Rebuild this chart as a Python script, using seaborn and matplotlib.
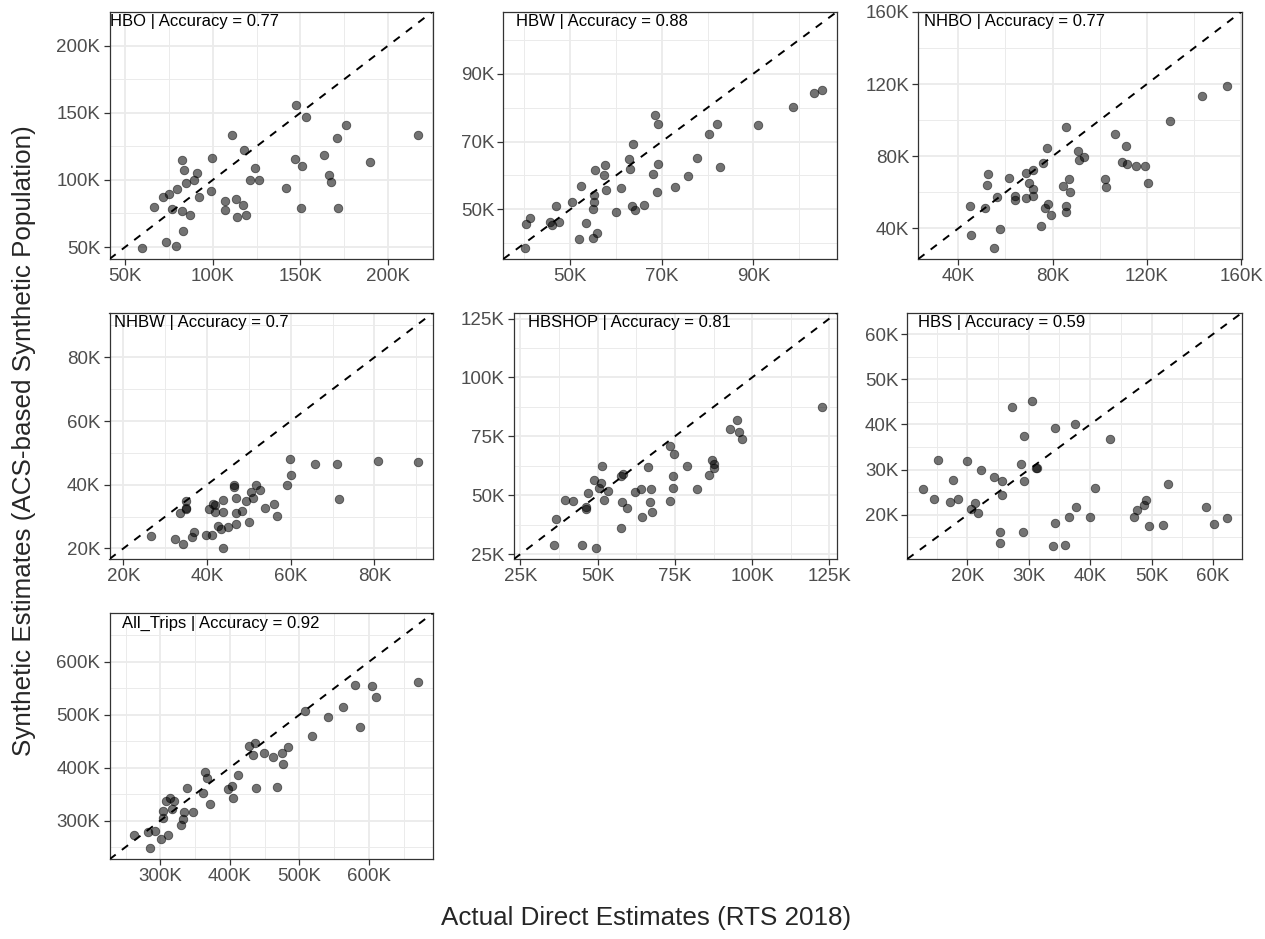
import numpy as np
import pandas as pd
import seaborn as sns
import matplotlib.pyplot as plt
from matplotlib.ticker import MultipleLocator, FuncFormatter

# values in thousands
hbo_x = [59.8, 73.2, 79.2, 83.2, 66.6, 71.7, 75.3, 76.8, 79.8, 82.3, 84.5, 87.2, 82.6, 83.6, 89.4, 90.9, 92.1, 99.1, 99.8, 107.0, 106.8, 111.1, 113.4, 113.6, 117.5, 119.1, 117.7, 121.1, 123.8, 126.4, 141.7, 146.8, 147.7, 151.1, 150.2, 153.4, 163.6, 166.4, 167.4, 171.0, 171.5, 175.7, 189.8, 217.0]
hbo_y = [49.5, 53.7, 50.7, 61.9, 79.6, 87.1, 89.6, 78.6, 93.0, 76.6, 98.0, 74.1, 114.7, 107.2, 99.8, 105.0, 87.3, 92.0, 116.2, 84.1, 77.9, 133.3, 85.6, 72.4, 81.3, 73.6, 121.9, 99.8, 108.5, 100.2, 94.0, 115.4, 155.7, 110.2, 78.9, 147.0, 118.4, 104.0, 98.8, 131.3, 78.9, 141.0, 113.2, 133.3]

hbw_x = [40.2, 40.4, 41.2, 45.5, 46.1, 47.5, 46.8, 50.4, 52.4, 52.0, 53.4, 55.0, 55.8, 54.9, 55.2, 55.2, 55.3, 57.4, 57.6, 57.9, 60.0, 61.1, 62.9, 63.1, 63.7, 63.4, 64.2, 66.0, 68.0, 68.5, 69.1, 69.1, 69.0, 72.8, 75.8, 77.7, 80.3, 82.1, 82.7, 90.9, 98.7, 103.2, 105.0]
hbw_y = [38.7, 45.6, 47.4, 46.3, 45.3, 46.3, 50.9, 52.1, 56.9, 41.4, 46.0, 41.5, 42.9, 50.2, 52.2, 54.1, 61.5, 60.0, 63.0, 55.8, 49.2, 56.3, 64.9, 62.0, 69.4, 51.0, 49.9, 51.2, 60.3, 77.9, 75.3, 63.4, 55.1, 56.6, 59.7, 65.1, 72.2, 75.3, 62.6, 74.8, 80.2, 84.4, 85.1]

nhbo_x = [44.9, 45.4, 51.3, 52.4, 52.8, 55.2, 56.4, 57.6, 61.6, 64.1, 64.1, 68.7, 68.7, 70.0, 71.6, 71.6, 71.6, 75.2, 76.0, 76.7, 77.7, 78.1, 79.4, 84.5, 85.5, 85.6, 85.9, 87.0, 87.3, 90.6, 91.1, 93.5, 102.3, 102.5, 106.5, 109.6, 111.3, 111.7, 115.5, 119.1, 120.3, 129.7, 143.5, 154.0]
nhbo_y = [52.5, 36.3, 51.4, 64.0, 69.9, 29.3, 57.5, 39.6, 68.2, 57.9, 55.7, 57.0, 70.8, 65.3, 72.6, 62.1, 58.1, 41.3, 76.1, 51.1, 84.4, 53.3, 47.7, 63.4, 96.2, 52.5, 49.2, 67.5, 60.3, 83.1, 77.8, 79.6, 67.6, 62.9, 92.4, 76.9, 85.7, 75.9, 74.7, 74.8, 65.1, 99.7, 113.2, 118.7]

nhbw_x = [26.7, 32.3, 34.2, 33.6, 35.0, 35.0, 35.0, 36.4, 36.9, 39.8, 41.1, 40.4, 41.5, 41.8, 41.9, 42.6, 43.4, 43.7, 43.9, 43.8, 45.1, 46.4, 46.4, 46.8, 46.9, 47.0, 48.4, 49.4, 50.0, 50.5, 50.9, 51.6, 52.6, 53.9, 55.9, 56.6, 59.1, 59.8, 60.1, 65.8, 71.1, 71.6, 80.8, 90.4]
nhbw_y = [23.8, 23.0, 21.5, 31.2, 32.7, 35.0, 32.3, 23.7, 25.1, 24.1, 24.1, 32.5, 34.1, 33.5, 31.6, 27.2, 26.0, 31.4, 35.2, 20.2, 26.7, 39.8, 39.3, 31.0, 27.6, 35.7, 31.8, 34.9, 28.4, 37.7, 35.7, 40.0, 38.5, 32.8, 34.1, 30.2, 39.8, 48.0, 43.0, 46.4, 46.5, 35.6, 47.5, 47.2]

hbshop_x = [35.8, 36.7, 39.6, 42.0, 44.8, 46.2, 46.4, 46.8, 48.9, 49.4, 50.5, 51.0, 51.5, 52.0, 53.3, 57.5, 57.7, 58.3, 58.0, 59.4, 62.0, 63.9, 64.5, 66.4, 67.1, 67.3, 67.6, 73.3, 73.3, 74.3, 74.4, 74.6, 78.8, 82.3, 86.1, 87.0, 87.5, 87.5, 92.8, 95.1, 95.9, 96.7, 122.6]
hbshop_y = [28.8, 40.0, 48.0, 47.6, 28.9, 44.2, 44.9, 50.8, 56.3, 27.7, 53.2, 55.1, 62.5, 48.0, 52.0, 36.1, 58.3, 59.0, 47.2, 44.5, 51.3, 52.8, 40.9, 61.8, 47.3, 52.8, 43.0, 47.6, 70.8, 58.3, 53.2, 67.7, 62.6, 52.8, 58.6, 64.9, 63.1, 61.5, 78.2, 82.0, 76.7, 73.7, 87.6]

hbs_x = [12.7, 14.5, 15.2, 17.2, 17.6, 18.4, 20.0, 20.6, 21.3, 21.8, 22.3, 24.3, 25.3, 25.3, 25.6, 25.7, 27.2, 28.7, 29.0, 29.2, 29.3, 31.2, 31.4, 30.5, 34.0, 34.3, 34.3, 35.9, 36.6, 37.6, 37.7, 40.0, 40.8, 43.2, 47.1, 47.6, 48.8, 49.1, 49.6, 51.9, 52.7, 58.9, 60.2, 62.2]
hbs_y = [25.8, 23.4, 32.1, 22.9, 27.8, 23.5, 31.9, 21.3, 22.7, 20.4, 30.0, 28.4, 16.3, 13.7, 27.6, 24.5, 43.9, 31.2, 16.2, 37.5, 27.6, 30.4, 30.4, 45.2, 13.0, 18.3, 39.3, 13.4, 19.5, 40.1, 21.7, 19.6, 25.9, 36.7, 19.6, 21.1, 22.1, 23.2, 17.6, 17.7, 26.9, 21.7, 17.9, 19.3]

all_x = [261.7, 281.8, 284.7, 291.9, 301.0, 304.3, 304.3, 307.7, 310.5, 313.4, 316.3, 320.1, 329.7, 333.0, 333.5, 338.3, 347.8, 360.8, 364.6, 367.5, 371.8, 398.1, 403.8, 405.3, 412.4, 428.2, 433.0, 436.4, 437.8, 448.8, 462.7, 467.5, 475.1, 476.1, 483.3, 508.6, 517.7, 540.7, 563.2, 580.4, 587.6, 604.3, 611.0, 670.8]
all_y = [273.1, 278.8, 248.1, 281.3, 264.4, 305.0, 317.5, 338.1, 273.1, 341.9, 322.5, 338.1, 291.3, 303.8, 316.9, 362.5, 316.9, 353.1, 391.9, 381.3, 331.9, 359.4, 365.6, 342.5, 386.3, 440.6, 423.8, 446.9, 362.5, 428.1, 420.6, 364.4, 428.1, 406.3, 438.8, 508.1, 459.4, 495.6, 515.6, 556.9, 476.9, 555.0, 534.4, 562.5]

purposes = ['HBO', 'HBW', 'NHBO', 'NHBW', 'HBSHOP', 'HBS', 'All_Trips']
accuracy = ['0.77', '0.88', '0.77', '0.7', '0.81', '0.59', '0.92']
xs = [hbo_x, hbw_x, nhbo_x, nhbw_x, hbshop_x, hbs_x, all_x]
ys = [hbo_y, hbw_y, nhbo_y, nhbw_y, hbshop_y, hbs_y, all_y]
steps = [50, 20, 40, 20, 25, 10, 100]
offsets = [0, 10, 0, 0, 0, 0, 0]  # HBW breaks sit at 50/70/90

sns.set_theme(style='white')
plt.rcParams['font.family'] = ['Liberation Sans', 'DejaVu Sans']

W, H = 1265, 939
fig = plt.figure(figsize=(W / 100, H / 100), dpi=100)

# panel boxes in pixels: left, top, right, bottom
boxes = [(109.5, 11.5, 432.7, 259), (503.3, 11.5, 837.3, 259), (918.3, 11.5, 1241.7, 259),
         (109.5, 313, 432.7, 559), (514, 313, 836.7, 559), (907.3, 313, 1241.7, 559),
         (109.5, 613.3, 432.7, 859.3)]
label_off = [1, 13, 6, 4, 14, 11, 12]

fmt = FuncFormatter(lambda v, p: f'{v:g}K')

for i, name in enumerate(purposes):
    l, t, r, b = boxes[i]
    ax = fig.add_axes([l / W, 1 - b / H, (r - l) / W, (b - t) / H])
    df = pd.DataFrame({'actual': xs[i], 'synthetic': ys[i]})
    sns.scatterplot(data=df, x='actual', y='synthetic', ax=ax, color='black',
                    alpha=0.55, s=38, edgecolor='black', linewidth=0.6, zorder=3)
    lo = min(df.min())
    hi = max(df.max())
    pad = 0.05 * (hi - lo)
    ax.set_xlim(lo - pad, hi + pad)
    ax.set_ylim(lo - pad, hi + pad)
    ax.axline((lo, lo), slope=1, color='black', lw=1.4, ls=(0, (4, 4)), zorder=4)

    for axis in (ax.xaxis, ax.yaxis):
        axis.set_major_locator(MultipleLocator(steps[i], offset=offsets[i]))
        axis.set_minor_locator(MultipleLocator(steps[i] / 2))
        axis.set_major_formatter(fmt)
    ax.grid(which='major', color='#EBEBEB', lw=1.3, zorder=0)
    ax.grid(which='minor', color='#EBEBEB', lw=0.7, zorder=0)
    ax.set_axisbelow(True)
    ax.tick_params(which='major', length=4.5, width=0.9, color='#333333',
                   labelsize=13.5, labelcolor='#4D4D4D', pad=2, bottom=True, left=True)
    ax.tick_params(which='minor', length=0)
    for sp in ax.spines.values():
        sp.set_color('#333333')
        sp.set_linewidth(0.9)
    ax.set_xlabel('')
    ax.set_ylabel('')
    ax.annotate(f'{name} | Accuracy = {accuracy[i]}', xy=(0, 1), xycoords='axes fraction',
                xytext=(label_off[i], -10), textcoords='offset pixels',
                ha='left', va='center', fontsize=12, color='black')

fig.text(646 / W, 1 - 918 / H, 'Actual Direct Estimates (RTS 2018)',
         ha='center', va='center', fontsize=18.7)
fig.text(24 / W, 1 - 441 / H, 'Synthetic Estimates (ACS-based Synthetic Population)',
         ha='center', va='center', rotation=90, fontsize=18.7)

plt.savefig('out.png', dpi=100)
